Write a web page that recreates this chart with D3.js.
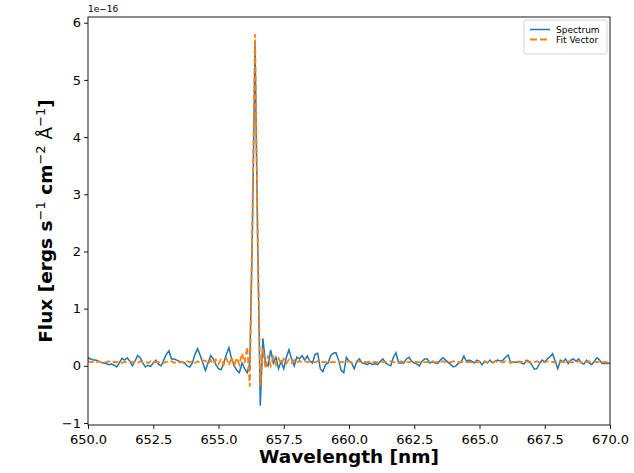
<!DOCTYPE html>
<html>
<head>
<meta charset="utf-8">
<script src="https://cdn.jsdelivr.net/npm/d3@7"></script>
<style>
body{margin:0;background:#fff;}
svg text{font-family:"DejaVu Sans",sans-serif;fill:#000;}
</style>
</head>
<body>
<div id="chart"></div>
<script>
// sampling grid of the spectrum (nm)
const waveStart=650.0
const waveStep=0.1

// flux values in units of 1e-16, one per 0.1 nm from 650.0 to 670.0
const spectrum=[
 0.14,0.12,0.10,0.10,0.08,0.06,0.05,0.04,0.02,0.03,
 0.01,-0.02,0.05,0.13,0.10,0.14,0.08,0.00,0.08,0.18,
 0.14,0.05,-0.02,0.01,-0.01,0.05,0.10,0.03,0.00,0.10,
 0.20,0.26,0.12,0.12,0.10,0.08,0.06,0.05,0.00,-0.02,
 0.05,0.20,0.30,0.18,0.05,-0.08,0.05,0.18,0.12,0.02,
 -0.05,-0.07,0.05,0.20,0.32,0.12,0.00,-0.08,-0.12,0.05,
 -0.05,-0.12,0.05,2.40,5.60,2.20,-0.70,0.48,0.05,0.00,
 0.28,0.05,0.15,-0.05,0.08,-0.05,0.15,0.28,0.12,0.00,
 0.15,0.12,0.18,0.10,0.17,0.08,0.05,0.20,0.22,-0.05,
 -0.10,0.02,0.05,0.18,0.22,0.23,0.10,-0.08,-0.12,0.15,
 0.08,0.05,-0.05,0.08,0.12,0.05,0.04,0.02,0.05,0.02,
 0.04,0.02,0.08,0.12,0.05,0.02,0.00,0.15,0.23,0.05,
 0.05,0.05,0.12,0.15,0.08,0.05,0.03,0.00,0.08,0.12,
 0.12,0.05,0.07,0.05,0.04,0.10,0.14,0.10,0.06,0.02,
 -0.02,0.00,0.05,0.07,0.17,0.08,0.10,0.08,0.05,0.10,
 0.08,0.02,0.08,0.05,0.10,0.05,0.08,0.10,0.08,0.10,
 0.15,0.19,0.05,0.07,0.06,0.08,0.05,0.03,0.10,0.08,
 0.02,-0.06,-0.05,0.04,0.10,0.07,0.12,0.16,0.21,0.08,
 -0.05,0.10,0.07,0.12,0.04,0.10,0.12,0.08,0.12,0.05,
 0.03,0.10,0.05,0.02,0.08,0.14,0.10,0.04,0.04,0.04,
 0.05
]
const fitVector=[
 0.08,0.06,0.07,0.05,0.08,0.06,0.07,0.06,0.08,0.05,
 0.07,0.06,0.08,0.05,0.07,0.06,0.08,0.06,0.07,0.05,
 0.08,0.06,0.07,0.05,0.08,0.06,0.07,0.06,0.08,0.05,
 0.07,0.06,0.08,0.05,0.08,0.06,0.07,0.05,0.08,0.06,
 0.08,0.05,0.08,0.05,0.09,0.09,0.04,0.10,0.03,0.11,
 0.03,0.12,0.02,0.13,0.01,0.15,0.00,0.14,0.02,0.22,
 0.05,0.33,-0.36,2.60,5.80,2.30,-0.35,0.30,-0.05,0.18,
 0.00,0.15,0.02,0.13,0.03,0.12,0.04,0.11,0.05,0.10,
 0.05,0.09,0.06,0.08,0.06,0.08,0.07,0.06,0.08,0.06,
 0.07,0.06,0.08,0.06,0.07,0.06,0.08,0.06,0.07,0.06,
 0.08,0.06,0.07,0.06,0.08,0.06,0.07,0.06,0.08,0.06,
 0.07,0.06,0.08,0.06,0.07,0.06,0.08,0.06,0.07,0.06,
 0.08,0.06,0.07,0.06,0.08,0.06,0.07,0.06,0.08,0.06,
 0.07,0.06,0.08,0.06,0.07,0.06,0.08,0.06,0.07,0.06,
 0.08,0.06,0.07,0.06,0.08,0.06,0.07,0.06,0.08,0.06,
 0.07,0.06,0.08,0.06,0.07,0.06,0.08,0.06,0.07,0.06,
 0.08,0.06,0.07,0.06,0.08,0.06,0.07,0.06,0.08,0.06,
 0.07,0.06,0.08,0.06,0.07,0.06,0.08,0.06,0.07,0.06,
 0.08,0.06,0.07,0.06,0.08,0.06,0.07,0.06,0.08,0.06,
 0.07,0.06,0.08,0.06,0.07,0.06,0.08,0.06,0.07,0.06,
 0.07
]

const xTicks=[650,652.5,655,657.5,660,662.5,665,667.5,670]
const yTicks=[-1,0,1,2,3,4,5,6]
const seriesNames=["Spectrum","Fit Vector"]
const seriesColors=["#1f77b4","#ff7f0e"]

const width=634, height=473
// plot box edges in px
const plotLeft=88, plotRight=610, plotTop=17, plotBottom=425

const xScale=d3.scaleLinear().domain([650,670]).range([plotLeft,plotRight])
const yScale=d3.scaleLinear().domain([-1.035,6.1]).range([plotBottom,plotTop])

const svg=d3.select("#chart").append("svg").attr("width",width).attr("height",height)

svg.append("clipPath").attr("id","plotArea").append("rect")
  .attr("x",plotLeft).attr("y",plotTop).attr("width",plotRight-plotLeft).attr("height",plotBottom-plotTop)

// build point lists from the wavelength grid
const specPoints=spectrum.map((v,i)=>[waveStart+i*waveStep,v])
const fitPoints=fitVector.map((v,i)=>[waveStart+i*waveStep,v])

const line=d3.line().x(d=>xScale(d[0])).y(d=>yScale(d[1]))

const plot=svg.append("g").attr("clip-path","url(#plotArea)")
plot.append("path").datum(specPoints).attr("d",line)
  .attr("fill","none").attr("stroke",seriesColors[0]).attr("stroke-width",1.5)
plot.append("path").datum(fitPoints).attr("d",line)
  .attr("fill","none").attr("stroke",seriesColors[1]).attr("stroke-width",1.8)
  .attr("stroke-dasharray","6,3")

// axes
const xAxis=d3.axisBottom(xScale).tickValues(xTicks).tickFormat(d3.format(".1f")).tickSize(4).tickPadding(6)
const yAxis=d3.axisLeft(yScale).tickValues(yTicks).tickFormat(d3.format("d")).tickSize(4).tickPadding(3)

const gx=svg.append("g").attr("transform","translate(0,"+plotBottom+")").call(xAxis)
const gy=svg.append("g").attr("transform","translate("+plotLeft+",0)").call(yAxis)
;[gx,gy].forEach(g=>{
  g.select(".domain").remove()
  g.selectAll(".tick line").attr("stroke","#000").attr("stroke-width",0.9)
  g.selectAll(".tick text").attr("font-size",13).attr("font-family","DejaVu Sans").attr("fill","#000")
})

svg.append("rect").attr("x",plotLeft).attr("y",plotTop).attr("width",plotRight-plotLeft).attr("height",plotBottom-plotTop)
  .attr("fill","none").attr("stroke","#000").attr("stroke-width",0.9)

// offset text
svg.append("text").attr("x",plotLeft).attr("y",12).attr("font-size",9).text("1e\u221216")

// axis labels
svg.append("text").attr("x",(plotLeft+plotRight)/2).attr("y",463).attr("text-anchor","middle")
  .attr("font-size",18.5).attr("font-weight","bold").text("Wavelength [nm]")

const yl=svg.append("text").attr("transform","translate(52,"+((plotTop+plotBottom)/2)+") rotate(-90)")
  .attr("text-anchor","middle").attr("font-size",18.5).attr("font-weight","bold")
yl.append("tspan").text("Flux [ergs s")
yl.append("tspan").attr("dy",-7).attr("font-size",13).attr("font-weight","normal").text("\u22121")
yl.append("tspan").attr("dy",7).text(" cm")
yl.append("tspan").attr("dy",-7).attr("font-size",13).attr("font-weight","normal").text("\u22122")
yl.append("tspan").attr("dy",7).attr("font-weight","normal").text(" \u00c5")
yl.append("tspan").attr("dy",-7).attr("font-size",13).attr("font-weight","normal").text("\u22121")
yl.append("tspan").attr("dy",7).text("]")

// legend
const lg=svg.append("g").attr("transform","translate(524,20)")
lg.append("rect").attr("width",83).attr("height",34).attr("rx",2)
  .attr("fill","#fff").attr("fill-opacity",0.8).attr("stroke","#ccc").attr("stroke-width",0.8)
seriesNames.forEach((name,i)=>{
  const yy=9.5+i*10
  lg.append("line").attr("x1",6).attr("x2",26).attr("y1",yy).attr("y2",yy)
    .attr("stroke",seriesColors[i]).attr("stroke-width",i?1.8:1.5)
    .attr("stroke-dasharray",i?"7,3":null)
  lg.append("text").attr("x",32).attr("y",yy+3.2).attr("font-size",9).text(name)
})
</script>
</body>
</html>
